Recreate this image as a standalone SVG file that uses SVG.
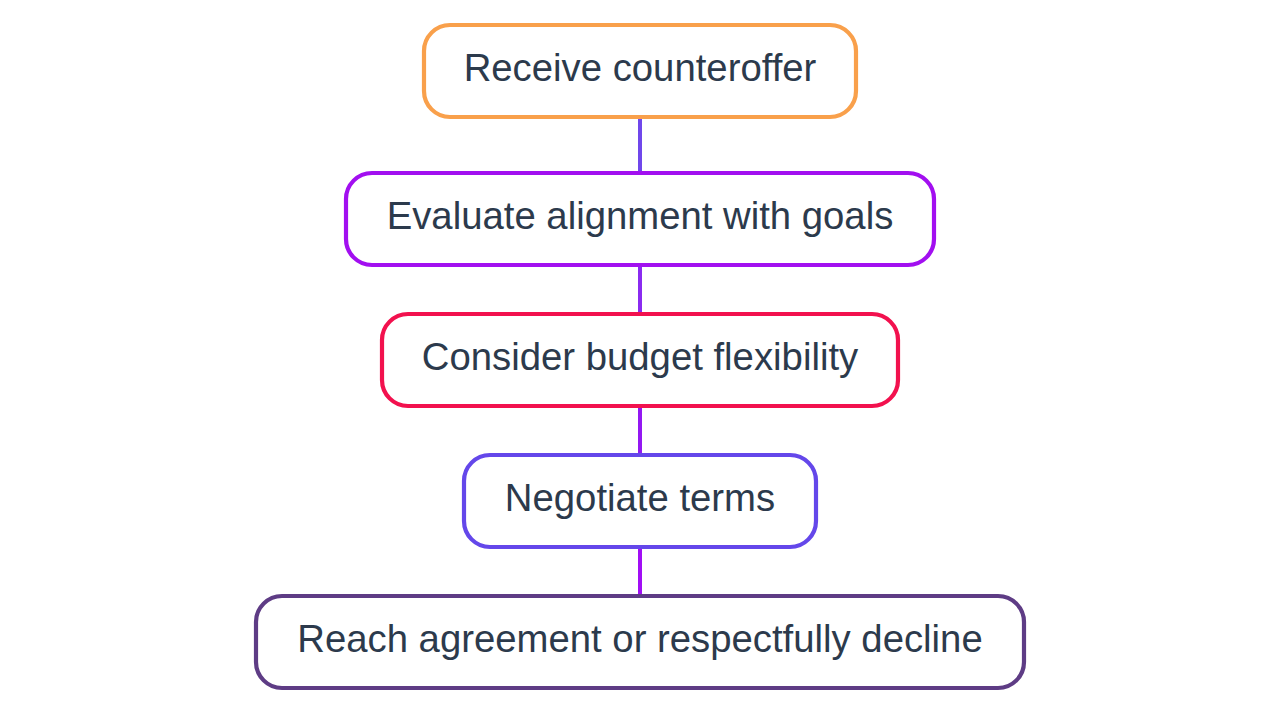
<svg xmlns="http://www.w3.org/2000/svg" width="1280" height="720" viewBox="0 0 1280 720">
<style>
.box{fill:#ffffff;stroke-width:4.2}
.lbl{font-family:"Liberation Sans",Arial,sans-serif;font-size:38.3px;fill:#2c3a4c;text-anchor:middle}
.edge{stroke-width:4;fill:none}
</style>
<rect width="1280" height="720" fill="#ffffff"/>
<g id="connectors">
<line class="edge" x1="640" y1="117" x2="640" y2="173" stroke="#7047EB"/>
<line class="edge" x1="640" y1="265" x2="640" y2="314" stroke="#8A2BF0"/>
<line class="edge" x1="640" y1="406" x2="640" y2="455" stroke="#9318F2"/>
<line class="edge" x1="640" y1="547" x2="640" y2="596" stroke="#A10EF5"/>
</g>
<g id="node1">
<rect class="box" x="424" y="25" width="432" height="92" rx="26" stroke="#F9A04B"/>
<text class="lbl" x="640" y="81">Receive counteroffer</text>
</g>
<g id="node2">
<rect class="box" x="346" y="173" width="588" height="92" rx="26" stroke="#A20FF0"/>
<text class="lbl" x="640" y="229">Evaluate alignment with goals</text>
</g>
<g id="node3">
<rect class="box" x="382" y="314" width="516" height="92" rx="26" stroke="#F2114E"/>
<text class="lbl" x="640" y="370">Consider budget flexibility</text>
</g>
<g id="node4">
<rect class="box" x="464" y="455" width="352" height="92" rx="26" stroke="#6447EA"/>
<text class="lbl" x="640" y="511">Negotiate terms</text>
</g>
<g id="node5">
<rect class="box" x="256" y="596" width="768" height="92" rx="26" stroke="#5E3C85"/>
<text class="lbl" x="640" y="652">Reach agreement or respectfully decline</text>
</g>
</svg>
